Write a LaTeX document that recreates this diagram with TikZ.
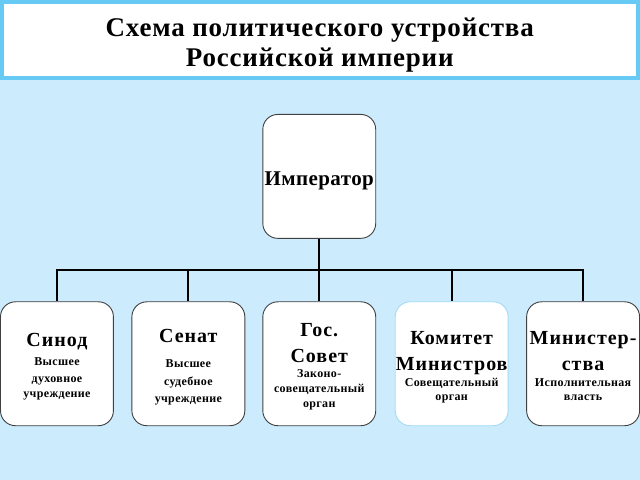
\documentclass[tikz,border=0pt]{standalone}
\usepackage{fontspec}
\setmainfont{Liberation Serif}
\usetikzlibrary{positioning}
\definecolor{fon}{HTML}{CCEBFD}
\definecolor{ramka}{HTML}{66CAF4}
\definecolor{ramkakom}{HTML}{A3DBF5}
% heading / small text of the lower boxes
\newcommand{\zag}{\fontsize{20}{15}\selectfont\addfontfeatures{LetterSpace=5}}
\newcommand{\verh}[1]{\rule{0pt}{#1}}
\newcommand{\niz}{\rule[-3pt]{0pt}{3pt}}

\begin{document}
\begin{tikzpicture}[x=1pt, y=-1pt, blok/.style={draw=black!75, line width=0.9pt, fill=white, rounded corners=15pt, minimum width=113pt, minimum height=124pt, inner sep=0pt, align=center, font=\bfseries\fontsize{12}{15}\selectfont\addfontfeatures{LetterSpace=3}}, lin/.style={draw=black, line width=2pt}]

\fill[fon] (0,0) rectangle (640,480);
\node[draw=ramka, line width=4pt, fill=white, minimum width=636pt, minimum height=76.5pt, inner sep=0pt, align=center, font=\bfseries\fontsize{27}{30.5}\selectfont\addfontfeatures{LetterSpace=3}] (titul) at (320,40.25) {\verh{28.2pt}Схема политического устройства\\Российской империи\rule[-6pt]{0pt}{6pt}};

\node[blok, font=\bfseries\fontsize{21}{24}\selectfont\addfontfeatures{LetterSpace=2}] (imp) at (319.5,176.5) {\verh{24pt}Император\rule[-5pt]{0pt}{5pt}};
\coordinate (shina) at (0,270);

\node[blok] (sinod) at (57,364) {\verh{20pt}{\zag Синод}\\[4pt]Высшее\\[2pt]духовное\\учреждение\niz};
\node[blok] (senat) at (188.5,364) {\verh{21pt}{\zag Сенат}\\[10pt]Высшее\\[3pt]судебное\\[2pt]учреждение\niz};
\node[blok] (gossovet) at (319.5,364) {\verh{20pt}{\zag Гос.}\\[11pt]{\zag Совет}\\Законо-\\совещательный\\орган\niz};
\node[blok, draw=ramkakom] (komitet) at (452,364) {\verh{21pt}{\zag Комитет}\\[11pt]{\zag Министров}\\[1pt]Совещательный\\[-1pt]орган\niz};
\node[blok] (ministerstva) at (583.5,364) {\verh{21pt}{\zag Министер-}\\[11pt]{\zag ства}\\[1pt]Исполнительная\\[-1pt]власть\niz};

\foreach \n in {sinod,senat,gossovet,komitet,ministerstva}
  \draw[lin] (imp.south) -- (imp.south |- shina) -| (\n.north);
\end{tikzpicture}
\end{document}
